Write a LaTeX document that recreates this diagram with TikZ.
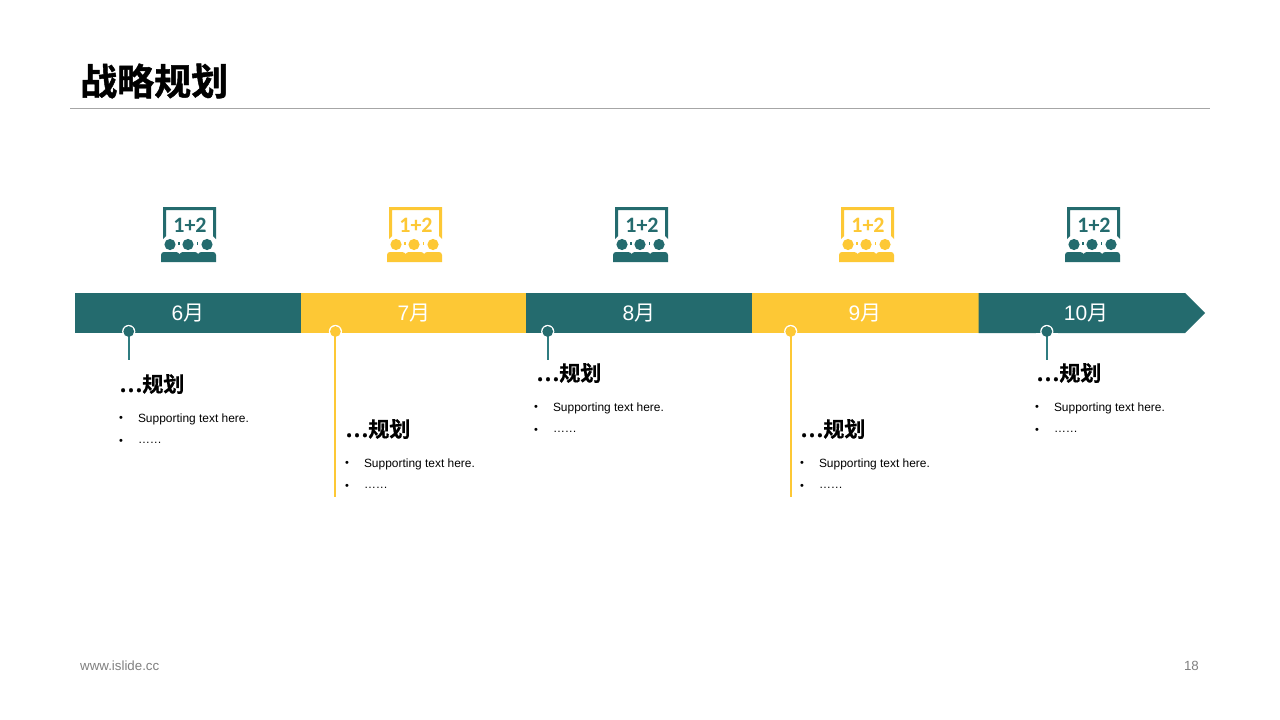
\documentclass[tikz,border=0pt]{standalone}
\usepackage{fontspec}
\setmainfont{Liberation Sans}
\newfontfamily\cjk{Noto Sans CJK SC}
\newfontfamily\cjkb[FakeBold=0.6]{Noto Sans CJK SC Bold}
\newfontfamily\cjkt[FakeBold=1.2]{Noto Sans CJK SC Bold}
\newfontfamily\carl{Carlito Bold}
\definecolor{teal1}{HTML}{246B6E}
\definecolor{gold1}{HTML}{FDC835}
\definecolor{tealline}{HTML}{2F7C80}
\tikzset{
  x=1pt,y=-1pt,
  month/.style={text=white,font=\fontsize{21}{21}\selectfont,inner sep=0},
  headtxt/.style={anchor=west,inner sep=0,font=\cjkb\fontsize{21}{21}\selectfont},
  bodytxt/.style={anchor=west,inner sep=0,font=\fontsize{11.95}{12}\selectfont},
  bul/.style={anchor=center,inner sep=0,font=\fontsize{11}{11}\selectfont},
  stemline/.style={line width=2pt},
  pics/board/.style={code={
    \fill[#1] (2,0) -- (55,0) -- (55,32) -- (52,29) -- (52,3) -- (5,3) -- (5,29) -- (2,32) -- cycle;
    \node[text=#1,inner sep=0,font=\carl\fontsize{22}{22}\selectfont] at (29,18) {1+2};
    \foreach \cx in {9,27,46} \fill[#1] (\cx,37.5) circle (5.6);
    \fill[#1] (17,35) rectangle (18.5,38);
    \fill[#1] (35.5,35) rectangle (37,38);
    \fill[#1] (0,55) -- (0,48) .. controls (0,46) and (1.5,45) .. (3,45) -- (15,45) .. controls (16.5,45) and (18,46) .. (18.5,47)
      .. controls (19,46) and (20.5,45) .. (22,45) -- (34,45) .. controls (35.5,45) and (36.5,46) .. (37,47)
      .. controls (37.5,46) and (39,45) .. (40.5,45) -- (52,45) .. controls (53.5,45) and (55,46) .. (55,48) -- (55,55) -- cycle;
  }},
}
\begin{document}
\begin{tikzpicture}
\useasboundingbox (0,0) rectangle (1280,720);
\fill[white] (0,0) rectangle (1280,720);
\node[anchor=west,inner sep=0,font=\cjkt\fontsize{37}{37}\selectfont] (title) at (80,81) {战略规划};
\draw[draw=black!35,line width=0.8pt] (70,108.5) coordinate (ruleL) -- (1210,108.5) coordinate (ruleR);
\coordinate (s1) at (128.7,331.5);
\coordinate (s2) at (335.4,331.5);
\coordinate (s3) at (547.7,331.5);
\coordinate (s4) at (790.7,331.5);
\coordinate (s5) at (1046.8,331.5);
% bar
\fill[teal1] (75,293) rectangle (301.2,333);
\fill[gold1] (301.2,293) rectangle (526,333);
\fill[teal1] (526,293) rectangle (752,333);
\fill[gold1] (752,293) rectangle (978.5,333);
\fill[teal1] (978.5,293) -- (1185,293) -- (1205,313) -- (1185,333) -- (978.5,333) -- cycle;
\node[month] (m6) at (188,313) {6{\cjk 月}};
\node[month] (m7) at (414,313) {7{\cjk 月}};
\node[month] (m8) at (639,313) {8{\cjk 月}};
\node[month] (m9) at (865,313) {9{\cjk 月}};
\node[month] (m10) at (1086,313) {10{\cjk 月}};
% icons
\pic at (161,207) {board=teal1};
\pic at (387,207) {board=gold1};
\pic at (613,207) {board=teal1};
\pic at (839,207) {board=gold1};
\pic at (1065,207) {board=teal1};
% white rings, then stems and dots
\foreach \s in {s1,s2,s3,s4,s5} \fill[white] (\s) circle (6.6);
\fill[white] (118,333) rectangle (140,345);
\fill[white] (324,333) rectangle (346,345);
\fill[white] (537,333) rectangle (559,345);
\fill[white] (779,333) rectangle (801,345);
\fill[white] (1036,333) rectangle (1058,345);
\draw[tealline,stemline] (s1) -- (128.7,360) coordinate (e1);
\fill[teal1] (s1) circle (5.4);
\draw[gold1,stemline] (s2) -- (335.4,497) coordinate (e2);
\fill[gold1] (s2) circle (5.4);
\draw[tealline,stemline] (s3) -- (547.7,360) coordinate (e3);
\fill[teal1] (s3) circle (5.4);
\draw[gold1,stemline] (s4) -- (790.7,497) coordinate (e4);
\fill[gold1] (s4) circle (5.4);
\draw[tealline,stemline] (s5) -- (1046.8,360) coordinate (e5);
\fill[teal1] (s5) circle (5.4);
% texts
\foreach \n/\x/\y in {a/119/384,b/345/429,c/536/373,d/800/429,e/1036/373}{
  \node[headtxt] (h\n) at (\x,\y) {…规划};
}
\foreach \n/\x/\y in {a/121/419,b/347/464,c/536/408,d/802/464,e/1037/408}{
  \node[bul] (p\n) at (\x,\y) {•};
  \node[bul] (q\n) at (\x,\y+23) {•};
  \node[bodytxt] (t\n) at (\x+16.8,\y+0.3) {Supporting text here.};
  \node[bodytxt] (u\n) at (\x+16.8,\y+24) {……};
}
\node[anchor=west,inner sep=0,text=black!50,font=\fontsize{13.3}{14}\selectfont] (web) at (80,666) {www.islide.cc};
\node[anchor=east,inner sep=0,text=black!50,font=\fontsize{13.3}{14}\selectfont] (pg) at (1199,666) {18};
\end{tikzpicture}
\end{document}
